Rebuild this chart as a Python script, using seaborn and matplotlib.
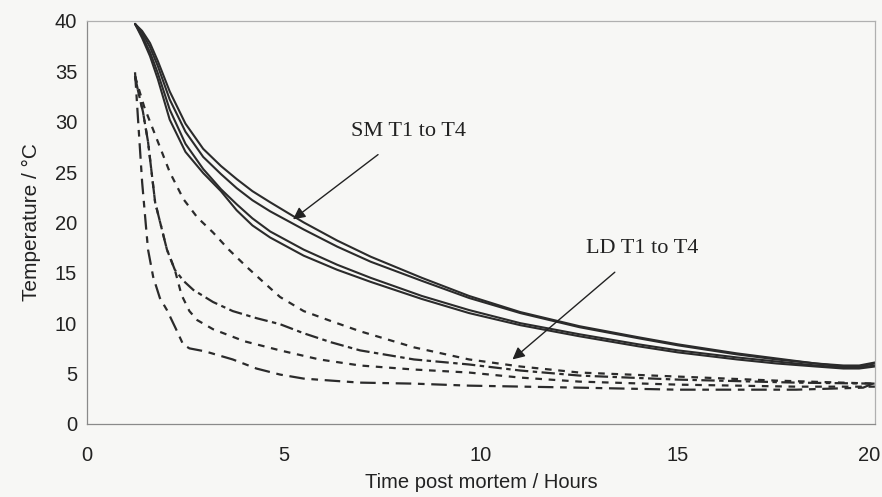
import numpy as np
import pandas as pd
import matplotlib
matplotlib.use("Agg")
import matplotlib.pyplot as plt
import matplotlib.transforms as mtransforms
import seaborn as sns

# Values (hours post mortem, temperature in degC)
sm_h = [1.22, 1.4, 1.6, 1.8, 2.1, 2.5, 2.95, 3.4, 3.8, 4.2, 4.65, 5.5, 6.35, 7.2,
        8.5, 9.7, 11, 12.5, 14, 15, 16.5, 17.5, 18.5, 19.2, 19.6, 20]
sm1_t = [39.7, 39.0, 37.8, 36.0, 33.0, 29.8, 27.3, 25.6, 24.3, 23.1, 22.0, 20.0, 18.2, 16.6,
         14.5, 12.7, 11.1, 9.7, 8.6, 7.9, 7.0, 6.5, 6.0, 5.8, 5.8, 6.1]
sm2_t = [39.7, 38.8, 37.4, 35.5, 32.2, 29.0, 26.5, 24.8, 23.4, 22.2, 21.1, 19.3, 17.6, 16.1,
         14.2, 12.5, 11.0, 9.6, 8.5, 7.8, 6.9, 6.4, 6.0, 5.7, 5.7, 6.0]
sm3_t = [39.7, 38.5, 36.9, 34.8, 31.2, 27.8, 25.3, 23.3, 21.8, 20.4, 19.1, 17.3, 15.8, 14.5,
         12.7, 11.3, 10.0, 8.9, 7.9, 7.3, 6.6, 6.2, 5.8, 5.6, 5.6, 5.8]
sm4_t = [39.7, 38.3, 36.5, 34.2, 30.2, 27.0, 24.9, 23.1, 21.2, 19.7, 18.5, 16.7, 15.3, 14.1,
         12.4, 11.0, 9.8, 8.7, 7.7, 7.1, 6.4, 6.0, 5.7, 5.5, 5.5, 5.7]

ld1_h = [1.22, 1.3, 1.4, 1.5, 1.55, 1.68, 1.85, 2.03, 2.25, 2.44, 2.6, 3.0, 3.7, 4.3, 4.9,
         5.5, 6.2, 6.93, 8.3, 9.7, 12.5, 15, 18, 19.7, 20]
ld1_t = [34.9, 30.0, 24.0, 19.5, 17.3, 14.6, 12.5, 11.3, 9.5, 7.9, 7.5, 7.2, 6.4, 5.5, 4.9,
         4.5, 4.3, 4.1, 4.0, 3.8, 3.6, 3.4, 3.4, 3.6, 4.1]
ld2_h = [1.22, 1.3, 1.42, 1.55, 1.73, 2.03, 2.23, 2.4, 2.6, 2.8, 3.2, 4.0, 4.9, 5.9, 6.93,
         8.3, 9.7, 11, 12.5, 15, 18, 20]
ld2_t = [34.5, 33.0, 31.0, 28.0, 22.0, 17.3, 15.3, 12.8, 11.2, 10.3, 9.4, 8.2, 7.3, 6.4, 5.8,
         5.4, 5.1, 4.6, 4.2, 3.9, 3.7, 3.7]
ld3_h = [1.22, 1.3, 1.42, 1.55, 1.73, 2.03, 2.23, 2.45, 2.7, 3.2, 3.7, 4.3, 4.9, 5.5, 6.2,
         6.93, 8.3, 9.7, 11, 12.5, 15, 18, 20]
ld3_t = [34.5, 33.0, 31.0, 28.0, 22.0, 17.3, 15.3, 14.2, 13.3, 12.1, 11.2, 10.5, 9.9, 9.0, 8.1,
         7.3, 6.4, 5.9, 5.3, 4.8, 4.4, 4.1, 4.0]
ld4_h = [1.22, 1.45, 1.68, 2.1, 2.45, 2.8, 3.2, 3.6, 4.05, 4.5, 4.9, 5.5, 6.2, 6.93, 8.3,
         9.7, 11, 12.5, 15, 17.5, 20]
ld4_t = [34.5, 31.5, 29.2, 25.0, 22.3, 20.5, 19.0, 17.3, 15.6, 14.0, 12.6, 11.2, 10.2, 9.2, 7.6,
         6.4, 5.7, 5.1, 4.7, 4.3, 4.0]

sm_curves = [(sm_h, sm1_t), (sm_h, sm2_t), (sm_h, sm3_t), (sm_h, sm4_t)]
ld_curves = [(ld1_h, ld1_t), (ld2_h, ld2_t), (ld3_h, ld3_t), (ld4_h, ld4_t)]
ld_dashes = [(0, (7, 3, 3, 3)), (0, (3, 3)), (0, (6, 2, 2, 2)), (0, (3, 3))]

sns.set_style("white")
plt.rcParams['font.family'] = ['Liberation Sans', 'DejaVu Sans']

fig = plt.figure(figsize=(8.82, 4.97), dpi=100, facecolor="#f7f7f5")
ax = fig.add_axes([0.0986, 0.147, 0.8934, 0.811])
ax.set_facecolor("#f7f7f5")

# Solid SM lines
for h, t in sm_curves:
    sns.lineplot(x=h, y=t, ax=ax, color="#2b2b2b", lw=1.5, sort=False, estimator=None)

# Dashed LD lines
for (h, t), ls in zip(ld_curves, ld_dashes):
    sns.lineplot(x=h, y=t, ax=ax, color="#2b2b2b", lw=1.6, sort=False,
                 estimator=None, linestyle=ls)

# Annotations with arrows
ax.annotate("SM T1 to T4", xy=(5.23, 20.3), xytext=(8.15, 29.0),
            ha="center", va="center", fontsize=16, family="Liberation Serif",
            color="#222222",
            arrowprops=dict(arrowstyle="-|>", color="#222222", lw=1.0,
                            mutation_scale=18, shrinkA=12, shrinkB=0))
ax.annotate("LD T1 to T4", xy=(10.8, 6.4), xytext=(14.1, 17.4),
            ha="center", va="center", fontsize=16, family="Liberation Serif",
            color="#222222",
            arrowprops=dict(arrowstyle="-|>", color="#222222", lw=1.0,
                            mutation_scale=18, shrinkA=12, shrinkB=0))

ax.set_xlim(0, 20)
ax.set_ylim(0, 40)
ax.set_xticks([0, 5, 10, 15, 20])
ax.set_yticks([0, 5, 10, 15, 20, 25, 30, 35, 40])
ax.tick_params(axis="y", direction="out", length=6, width=0.8, color="#888888",
               labelsize=14.5, labelcolor="#222222", pad=1)
ax.tick_params(axis="x", direction="out", length=0, labelsize=14.5,
               labelcolor="#222222", pad=16)

# last x label sits at the right edge, nudge it a touch so it stays inside
last = ax.get_xticklabels()[-1]
last.set_transform(last.get_transform() +
                   mtransforms.ScaledTranslation(-4 / 72, 0, fig.dpi_scale_trans))

for side in ["left", "bottom", "top", "right"]:
    ax.spines[side].set_visible(True)
    ax.spines[side].set_color("#8a8a8a")
    ax.spines[side].set_linewidth(0.9)
ax.spines["top"].set_linestyle((0, (2, 1)))
ax.spines["right"].set_linestyle((0, (2, 1)))
ax.spines["top"].set_color("#b0b0b0")
ax.spines["right"].set_color("#b0b0b0")

ax.set_xlabel("Time post mortem / Hours", fontsize=14.5, color="#222222", labelpad=6)
ax.set_ylabel("Temperature / \u00b0C", fontsize=15, color="#222222", labelpad=10)

fig.savefig("out.png", dpi=100, facecolor=fig.get_facecolor())
